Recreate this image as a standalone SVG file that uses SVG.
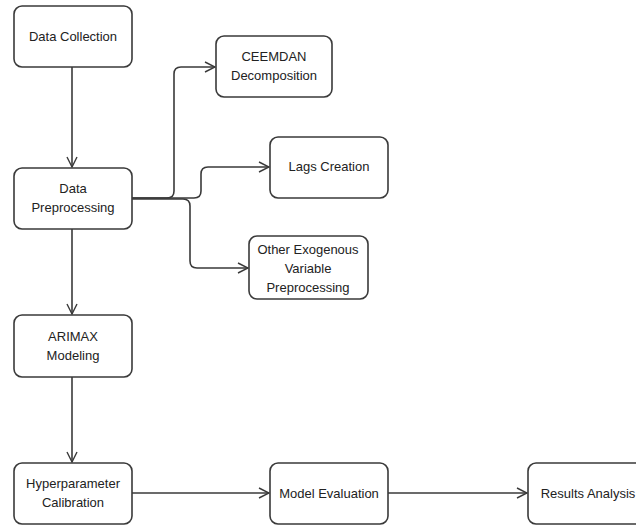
<svg xmlns="http://www.w3.org/2000/svg" width="636" height="527" viewBox="0 0 636 527">
<defs>
<marker id="arr" viewBox="0 0 12 12" refX="11" refY="6" markerWidth="12" markerHeight="12" markerUnits="userSpaceOnUse" orient="auto">
<path d="M1,1 L11,6 L1,11" fill="none" stroke="#3a3a3a" stroke-width="1.4"/>
</marker>
<style>
.box{fill:#fff;stroke:#3a3a3a;stroke-width:1.6}
.t{font-family:"Liberation Sans",Arial,sans-serif;font-size:13px;fill:#222;text-anchor:middle}
.c{fill:none;stroke:#3a3a3a;stroke-width:1.6;marker-end:url(#arr)}
</style>
</defs>
<rect width="636" height="527" fill="#fff"/>
<g id="connectors">
<path class="c" d="M72,67 V167"/>
<path class="c" d="M72,229 V314"/>
<path class="c" d="M72,377 V462"/>
<path class="c" d="M132,493 H269"/>
<path class="c" d="M388,493 H527"/>
<path class="c" d="M132,198 H167 Q174,198 174,191 V74 Q174,67 181,67 H215"/>
<path class="c" d="M132,198 H194 Q201,198 201,191 V174 Q201,167 208,167 H269"/>
<path class="c" d="M132,199 H183 Q190,199 190,206 V261 Q190,268 197,268 H248"/>
</g>
<g id="data-collection">
<rect class="box" x="14" y="6" width="118" height="61" rx="8"/>
<text class="t" x="73" y="41">Data Collection</text>
</g>
<g id="data-preprocessing">
<rect class="box" x="14" y="168" width="118" height="61" rx="8"/>
<text class="t" x="73" y="193">Data</text>
<text class="t" x="73" y="212">Preprocessing</text>
</g>
<g id="ceemdan">
<rect class="box" x="216" y="36" width="116" height="61" rx="8"/>
<text class="t" x="274" y="61">CEEMDAN</text>
<text class="t" x="274" y="80">Decomposition</text>
</g>
<g id="lags-creation">
<rect class="box" x="270" y="137" width="118" height="61" rx="8"/>
<text class="t" x="329" y="171">Lags Creation</text>
</g>
<g id="other-exogenous">
<rect class="box" x="249" y="236" width="119" height="63" rx="8"/>
<text class="t" x="308" y="254">Other Exogenous</text>
<text class="t" x="308" y="273">Variable</text>
<text class="t" x="308" y="292">Preprocessing</text>
</g>
<g id="arimax">
<rect class="box" x="14" y="315" width="118" height="62" rx="8"/>
<text class="t" x="73" y="341">ARIMAX</text>
<text class="t" x="73" y="360">Modeling</text>
</g>
<g id="hyperparameter">
<rect class="box" x="14" y="463" width="118" height="61" rx="8"/>
<text class="t" x="73" y="488">Hyperparameter</text>
<text class="t" x="73" y="507">Calibration</text>
</g>
<g id="model-evaluation">
<rect class="box" x="270" y="463" width="118" height="61" rx="8"/>
<text class="t" x="329" y="498">Model Evaluation</text>
</g>
<g id="results-analysis">
<rect class="box" x="528" y="463" width="118" height="61" rx="8"/>
<text class="t" x="588" y="498">Results Analysis</text>
</g>
</svg>
